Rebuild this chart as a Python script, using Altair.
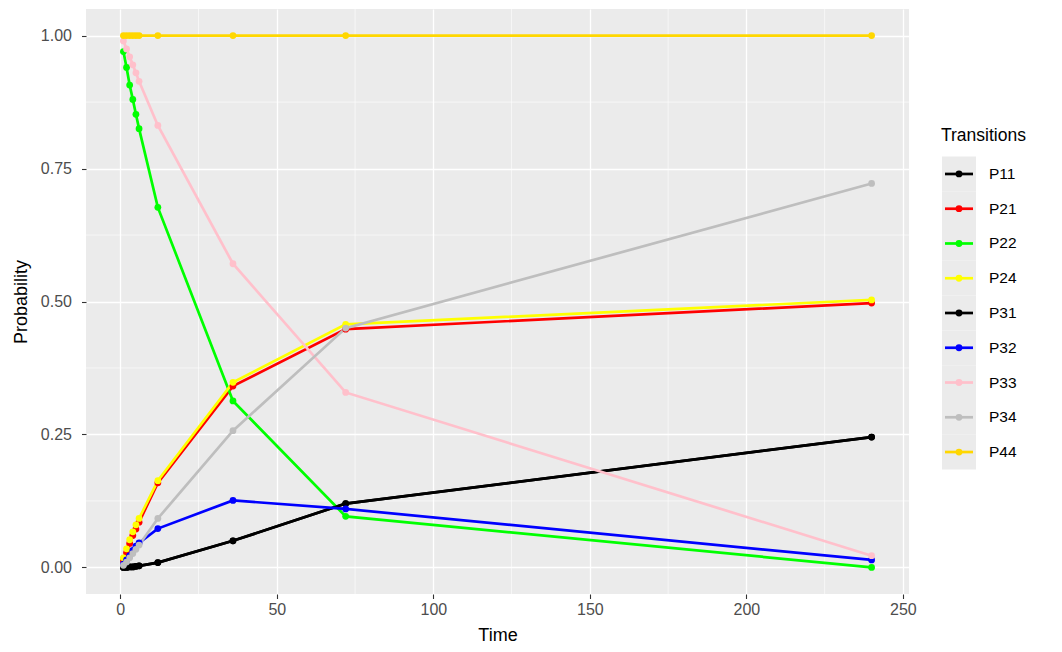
import altair as alt
import pandas as pd

times = [1, 2, 3, 4, 5, 6, 12, 36, 72, 240]
series_names = ["P11", "P21", "P22", "P24", "P31", "P32", "P33", "P34", "P44"]
series_colors = ["#000000", "#FF0000", "#00FF00", "#FFFF00", "#000000",
                 "#0000FF", "#FFC0CB", "#BEBEBE", "#FFD700"]

P11 = [0.000, 0.000, 0.001, 0.001, 0.002, 0.003, 0.009, 0.050, 0.120, 0.245]
P21 = [0.012, 0.028, 0.045, 0.060, 0.072, 0.085, 0.159, 0.341, 0.448, 0.497]
P22 = [0.970, 0.940, 0.907, 0.880, 0.852, 0.825, 0.677, 0.313, 0.096, 0.000]
P24 = [0.018, 0.035, 0.052, 0.067, 0.080, 0.092, 0.163, 0.348, 0.457, 0.503]
P31 = [0.000, 0.000, 0.001, 0.001, 0.002, 0.003, 0.009, 0.050, 0.120, 0.245]
P32 = [0.006, 0.014, 0.022, 0.032, 0.040, 0.046, 0.073, 0.126, 0.110, 0.014]
P33 = [0.990, 0.975, 0.960, 0.945, 0.930, 0.914, 0.831, 0.571, 0.329, 0.022]
P34 = [0.004, 0.010, 0.018, 0.026, 0.034, 0.042, 0.092, 0.257, 0.450, 0.722]
P44 = [1.000, 1.000, 1.000, 1.000, 1.000, 1.000, 1.000, 1.000, 1.000, 1.000]

x_ticks = [0, 50, 100, 150, 200, 250]
y_ticks = [0.0, 0.25, 0.5, 0.75, 1.0]
x_minor = [25, 75, 125, 175, 225]
y_minor = [0.125, 0.375, 0.625, 0.875]
legend_title = "Transitions"

values = [P11, P21, P22, P24, P31, P32, P33, P34, P44]
rows = []
for i, (name, vals) in enumerate(zip(series_names, values)):
    for t, v in zip(times, vals):
        rows.append({"Time": t, "Probability": v, "Transitions": name, "ord": i})
df = pd.DataFrame(rows)

FONT = "Liberation Sans"
xscale = alt.Scale(domain=[-10.95, 251.95], nice=False, zero=False)
yscale = alt.Scale(domain=[-0.05, 1.05], nice=False, zero=False)
cscale = alt.Scale(domain=series_names, range=series_colors)

xaxis = alt.Axis(title="Time", values=x_ticks, format="d", grid=True, gridColor="white",
                 gridWidth=1.3, domain=False, tickColor="#333333", tickSize=4.5, tickWidth=1.1,
                 labelColor="#4D4D4D", labelFontSize=16, labelFont=FONT, labelPadding=3,
                 titleFont=FONT, titleFontSize=18, titleFontWeight="normal", titleColor="black",
                 titlePadding=9, labelFlush=False)
yaxis = alt.Axis(title="Probability", values=y_ticks, format=".2f", grid=True, gridColor="white",
                 gridWidth=1.3, domain=False, tickColor="#333333", tickSize=4.5, tickWidth=1.1,
                 labelColor="#4D4D4D", labelFontSize=16, labelFont=FONT, labelPadding=10,
                 titleFont=FONT, titleFontSize=18, titleFontWeight="normal", titleColor="black",
                 titlePadding=9.5, labelFlush=False)

vminor = alt.Chart(pd.DataFrame({"Time": x_minor})).mark_rule(color="white", strokeWidth=0.6).encode(
    x=alt.X("Time:Q", scale=xscale, axis=xaxis))
hminor = alt.Chart(pd.DataFrame({"Probability": y_minor})).mark_rule(color="white", strokeWidth=0.6).encode(
    y=alt.Y("Probability:Q", scale=yscale, axis=yaxis))

base = alt.Chart(df).encode(
    x=alt.X("Time:Q", scale=xscale, axis=xaxis),
    y=alt.Y("Probability:Q", scale=yscale, axis=yaxis),
    color=alt.Color("Transitions:N", scale=cscale, legend=None),
    order=alt.Order("ord:Q"),
)
lines = base.mark_line(strokeWidth=2.7)
points = base.mark_point(filled=True, size=46, opacity=1)

main = alt.layer(vminor, hminor, lines, points).properties(
    width=823, height=585,
    view=alt.ViewBackground(fill="#EBEBEB", stroke=None),
)

leg_df = pd.DataFrame({"Transitions": series_names})
ly = alt.Y("Transitions:N", sort=series_names, axis=None,
           scale=alt.Scale(domain=series_names, range=[147.6, 460.4], paddingInner=0, paddingOuter=0))
lcol = alt.Color("Transitions:N", scale=cscale, legend=None)
lbase = alt.Chart(leg_df)
lrect = lbase.mark_rect(color="#EBEBEB").encode(y=ly, x=alt.value(0), x2=alt.value(34))
lrule = lbase.mark_rule(strokeWidth=2.7).encode(y=ly, x=alt.value(3), x2=alt.value(31), color=lcol)
lpt = lbase.mark_point(filled=True, size=46, opacity=1).encode(y=ly, x=alt.value(17), color=lcol)
ltxt = lbase.mark_text(align="left", baseline="middle", fontSize=15.5, font=FONT, color="black").encode(
    y=ly, x=alt.value(47), text="Transitions:N")
ltitle = alt.Chart(pd.DataFrame({"t": [legend_title]})).mark_text(
    align="left", baseline="middle", fontSize=17.5, font=FONT, color="black").encode(
    x=alt.value(-1), y=alt.value(127), text="t:N")

legend = alt.layer(lrect, lrule, lpt, ltxt, ltitle).properties(
    width=110, height=585, view=alt.ViewBackground(fill=None, stroke=None))

chart = alt.hconcat(main, legend, spacing=24).properties(
    padding={"left": 4, "top": 0, "right": 0, "bottom": 0}
).configure_view(stroke=None).configure(background="white")

chart.save("out.html", embed_options={"renderer": "svg", "actions": False})
